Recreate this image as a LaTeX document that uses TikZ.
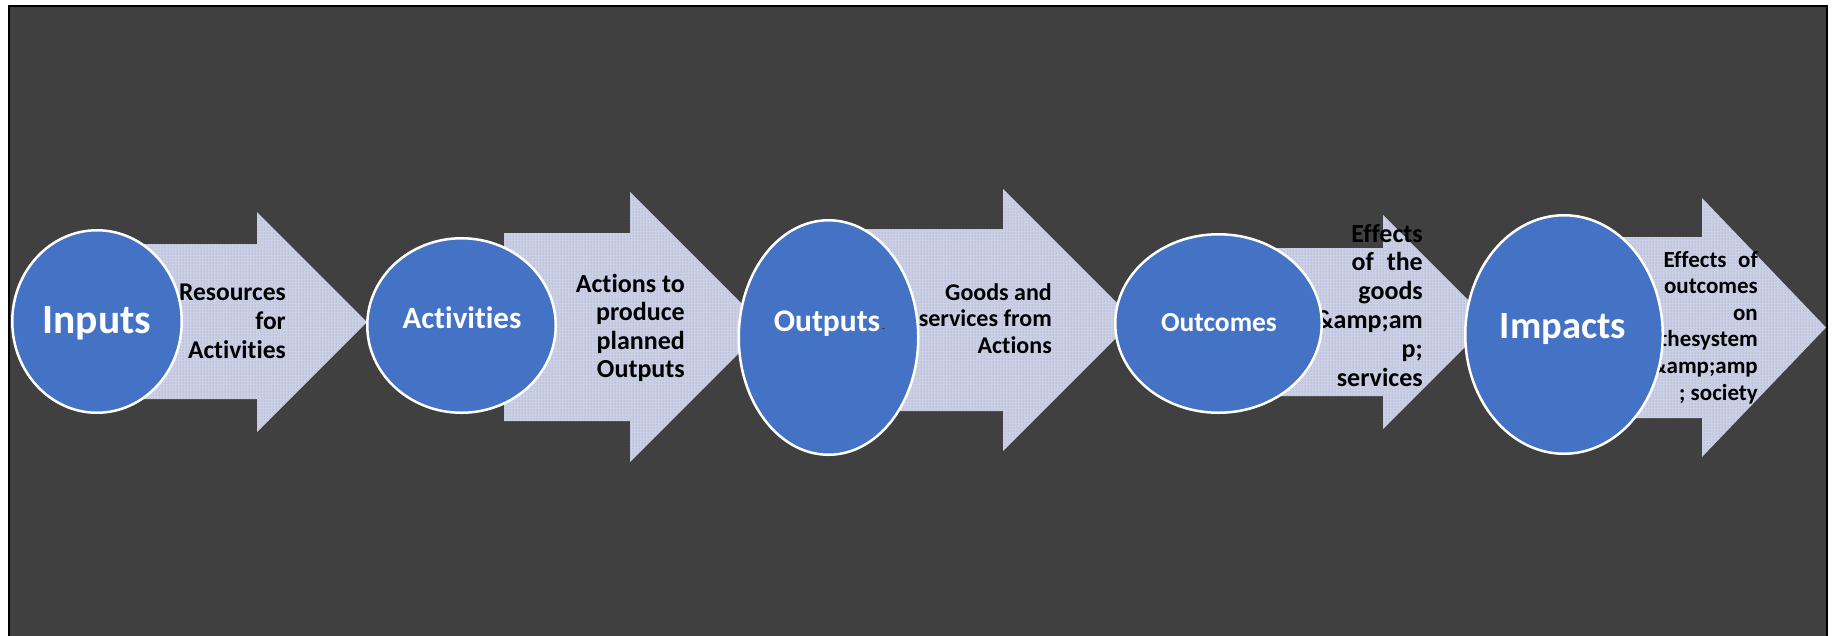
\documentclass[tikz,border=0pt]{standalone}
\usepackage{fontspec}
\setmainfont{Carlito}[Ligatures=NoCommon]
\usetikzlibrary{shapes.geometric,patterns}
\definecolor{bgdark}{HTML}{404040}
\definecolor{circblue}{HTML}{4472C4}
\definecolor{arrowfill}{HTML}{CBD0E6}
\definecolor{arrowdot}{HTML}{9298B0}
\definecolor{markdark}{HTML}{3A3F4A}
\tikzset{
  blockarrow/.style={fill=arrowfill, draw=none},
  arrowtexture/.style={pattern=dots, pattern color=arrowdot},
  bubble/.style={ellipse, fill=circblue, draw=white, line width=2.5pt, inner sep=0pt},
  bubbletext/.style={text=white, inner sep=0pt, anchor=base},
  % anchor base east = baseline of the LAST line
  arrowtext/.style={align=right, inner sep=0pt, text=black, anchor=base east},
}
\begin{document}
\begin{tikzpicture}[x=1pt,y=-1pt]
\useasboundingbox (0,0) rectangle (1833,635);
\fill[white] (0,0) rectangle (1833,635);
\draw[black, line width=2pt, fill=bgdark] (9,6) rectangle (1827,650);

% block arrows
\foreach \p in {
  {(100,244) -- (257,244) -- (257,212) -- (367,322) -- (257,432) -- (257,399) -- (100,399) -- cycle},
  {(504,233) -- (630,233) -- (630,192) -- (765,327) -- (630,462) -- (630,421) -- (504,421) -- cycle},
  {(835,229) -- (1003,229) -- (1003,189) -- (1134,320) -- (1003,451) -- (1003,411) -- (835,411) -- cycle},
  {(1220,248) -- (1383,248) -- (1383,215) -- (1490,322) -- (1383,429) -- (1383,396) -- (1220,396) -- cycle},
  {(1563,237) -- (1702,237) -- (1702,198) -- (1826,327.5) -- (1702,457) -- (1702,418) -- (1563,418) -- cycle}}
{
  \fill[blockarrow] \p;
  \fill[arrowtexture] \p;
}

% arrow texts (positioned by the baseline of their last line)
\node[arrowtext, font={\bfseries\fontsize{25.5}{29}\selectfont}] (t1) at (286,358)
  {Resources\\for\\Activities};
\node[arrowtext, font={\bfseries\fontsize{26}{28.5}\selectfont}] (t2) at (685,377.5)
  {Actions to\\produce\\planned\\Outputs};
\node[arrowtext, font={\bfseries\fontsize{24}{26.5}\selectfont}] (t3) at (1052,353)
  {Goods and\\services from\\Actions};
\node[arrowtext, font={\bfseries\fontsize{26}{28.8}\selectfont}] (t4) at (1423,386)
  {Effects\\of\hspace{0.5em}the\\goods\\\&amp;am\\p;\\services};
\node[arrowtext, font={\bfseries\fontsize{23}{26.6}\selectfont}] (t5) at (1758,400)
  {Effects\hspace{0.5em}of\\outcomes\\on\\thesystem\\\&amp;amp\\; society};

% circles
\node[bubble, minimum width=169.5pt, minimum height=182.5pt] (inputs) at (97,321.5) {};
\node[bubble, minimum width=188.5pt, minimum height=174.5pt] (activities) at (461.5,325.5) {};
\node[bubble, minimum width=179.5pt, minimum height=234.5pt] (outputs) at (828.5,337.5) {};
\node[bubble, minimum width=206.5pt, minimum height=178.5pt] (outcomes) at (1218.5,323.5) {};
\node[bubble, minimum width=197.5pt, minimum height=238.5pt] (impacts) at (1564,334.5) {};

% circle labels
\node[bubbletext, font={\bfseries\fontsize{41.5}{41.5}\selectfont}] (inputs-l) at (97,333) {Inputs};
\node[bubbletext, font={\bfseries\fontsize{31}{31}\selectfont}] (activities-l) at (462,328) {Activities};
\node[bubbletext, font={\bfseries\fontsize{31.5}{31.5}\selectfont}] (outputs-l) at (827,331) {Outputs};
\node[bubbletext, font={\bfseries\fontsize{27.5}{27.5}\selectfont}] (outcomes-l) at (1219,331) {Outcomes};
\node[bubbletext, font={\bfseries\fontsize{38.5}{38.5}\selectfont}] (impacts-l) at (1563,338) {Impacts};
\fill[markdark] (881.5,327.5) rectangle (885,329);
\end{tikzpicture}
\end{document}
